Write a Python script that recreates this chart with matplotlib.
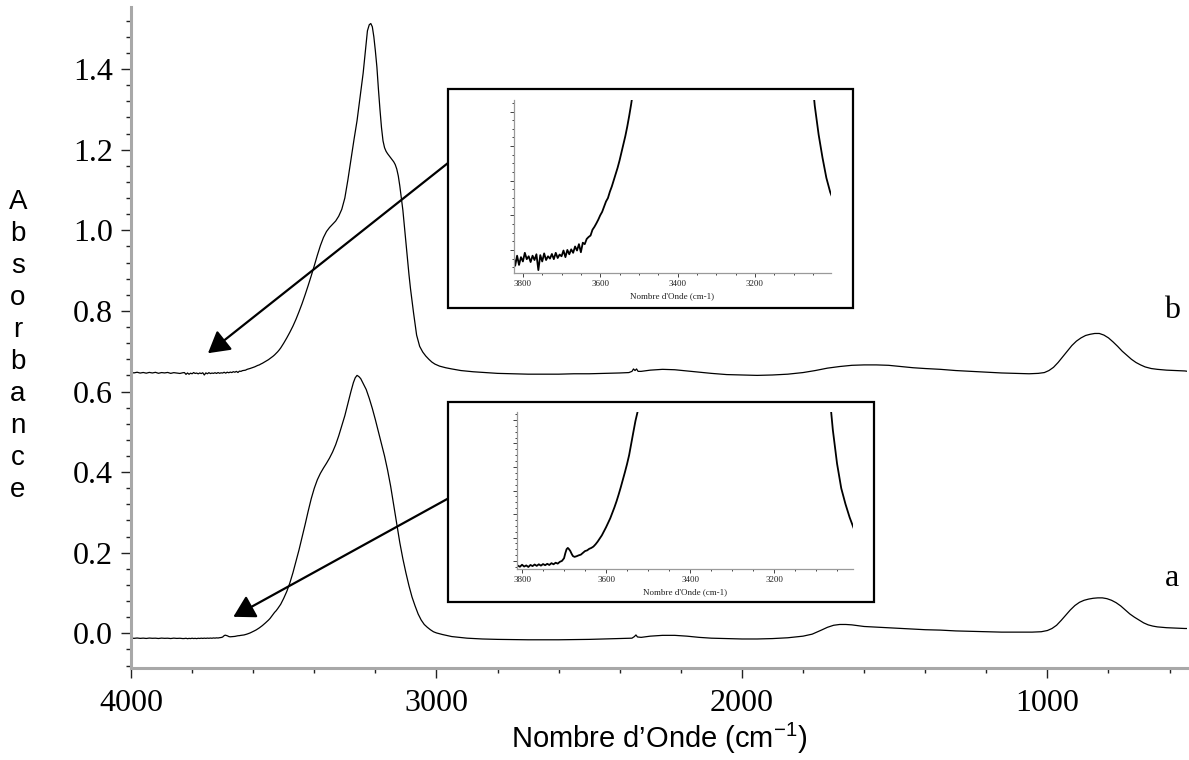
import numpy as np
import matplotlib
matplotlib.use("Agg")
import matplotlib.pyplot as plt
from matplotlib.patches import Rectangle
from matplotlib.ticker import MultipleLocator

# spectre b (échantillon traité), nombres d'onde en cm-1
wn_b = [4000, 3990, 3980, 3970, 3960, 3950, 3940, 3930, 3920, 3910, 3900, 3890,
        3880, 3870, 3860, 3850, 3840, 3830,
        3825, 3820, 3815, 3810, 3805, 3800, 3795, 3790, 3785, 3780, 3775, 3770,
        3765, 3760, 3755, 3750, 3745, 3740, 3735, 3730, 3725, 3720, 3715, 3710,
        3705, 3700, 3695, 3690, 3685, 3680, 3675, 3670, 3665, 3660, 3655, 3650,
        3645, 3640, 3635, 3630, 3625, 3620, 3615, 3610, 3605, 3600, 3595, 3590,
        3585, 3580, 3575, 3570, 3565, 3560, 3555, 3550, 3545, 3540, 3535, 3530,
        3525, 3520, 3515, 3510,
        3500, 3490, 3480, 3470, 3460, 3450, 3440, 3430, 3420, 3410, 3400, 3390,
        3380, 3370, 3360, 3350, 3340, 3330, 3320, 3310, 3300, 3290, 3280, 3270,
        3260, 3250, 3240, 3232, 3226, 3220, 3215, 3210, 3205, 3200, 3195, 3190,
        3185, 3180, 3175, 3170, 3165, 3160, 3150, 3140, 3135, 3130, 3125, 3120,
        3115, 3110, 3105, 3100, 3095, 3090, 3085, 3080, 3075, 3070, 3065, 3055,
        3045, 3035, 3025, 3015, 3005, 2990, 2970, 2950, 2920, 2880, 2840, 2800,
        2750, 2700, 2650, 2600, 2550, 2500, 2450, 2400, 2370, 2360, 2355, 2350,
        2345, 2340, 2330, 2300, 2260, 2220, 2180, 2140, 2100, 2050, 2000, 1950,
        1900, 1850, 1800, 1760, 1720, 1680, 1640, 1600, 1560, 1520, 1480, 1440,
        1400, 1350, 1300, 1250, 1200, 1150, 1100, 1060, 1030, 1010, 995, 980,
        965, 950, 935, 920, 905, 890, 875, 860, 845, 830, 815, 800,
        785, 770, 755, 740, 725, 710, 695, 680, 660, 640, 610, 580,
        550, 540]
abs_b = [0.6470, 0.6462, 0.6478, 0.6458, 0.6472, 0.6455, 0.6474, 0.6460, 0.6476, 0.6452, 0.6470, 0.6461,
         0.6473, 0.6450, 0.6468, 0.6457, 0.6448, 0.6466,
         0.6470, 0.6425, 0.6460, 0.6428, 0.6455, 0.6440, 0.6470, 0.6448, 0.6458, 0.6438, 0.6460, 0.6445,
         0.6465, 0.6410, 0.6462, 0.6440, 0.6468, 0.6445, 0.6458, 0.6450, 0.6466, 0.6448, 0.6470, 0.6452,
         0.6464, 0.6458, 0.6478, 0.6455, 0.6480, 0.6465, 0.6482, 0.6470, 0.6492, 0.6478, 0.6500, 0.6472,
         0.6505, 0.6500, 0.6518, 0.6525, 0.6530, 0.6550, 0.6560, 0.6572, 0.6585, 0.6600, 0.6612, 0.6630,
         0.6648, 0.6660, 0.6682, 0.6700, 0.6722, 0.6745, 0.6765, 0.6790, 0.6818, 0.6845, 0.6875, 0.6908,
         0.6945, 0.6985, 0.7030, 0.7080,
         0.720, 0.733, 0.747, 0.762, 0.779, 0.798, 0.818, 0.840, 0.863, 0.887, 0.912, 0.938,
         0.962, 0.982, 0.997, 1.007, 1.015, 1.023, 1.035, 1.052, 1.080, 1.125, 1.175, 1.225,
         1.272, 1.330, 1.390, 1.450, 1.495, 1.510, 1.513, 1.505, 1.480, 1.445, 1.405, 1.350,
         1.300, 1.255, 1.222, 1.205, 1.196, 1.190, 1.180, 1.170, 1.163, 1.152, 1.135, 1.110,
         1.080, 1.050, 1.010, 0.970, 0.930, 0.890, 0.855, 0.825, 0.795, 0.768, 0.740, 0.712,
         0.698, 0.688, 0.680, 0.673, 0.668, 0.663, 0.659, 0.656, 0.652, 0.649, 0.647, 0.645,
         0.644, 0.643, 0.643, 0.643, 0.644, 0.644, 0.645, 0.646, 0.647, 0.650, 0.656, 0.652,
         0.656, 0.650, 0.650, 0.653, 0.655, 0.654, 0.651, 0.648, 0.645, 0.642, 0.641, 0.640,
         0.641, 0.643, 0.647, 0.652, 0.658, 0.662, 0.665, 0.666, 0.666, 0.665, 0.662, 0.659,
         0.657, 0.655, 0.652, 0.650, 0.648, 0.646, 0.645, 0.644, 0.645, 0.647, 0.652, 0.660,
         0.672, 0.686, 0.700, 0.714, 0.725, 0.733, 0.739, 0.742, 0.744, 0.744, 0.740, 0.733,
         0.723, 0.712, 0.700, 0.690, 0.680, 0.672, 0.666, 0.661, 0.657, 0.655, 0.653, 0.652,
         0.651, 0.650]

# spectre a (échantillon de référence)
wn_a = [4000, 3990, 3980, 3970, 3960, 3950, 3940, 3930, 3920, 3910, 3900, 3890,
        3880, 3870, 3860, 3850, 3840, 3830,
        3825, 3820, 3815, 3810, 3805, 3800, 3795, 3790, 3785, 3780, 3775, 3770,
        3765, 3760, 3755, 3750, 3745, 3740, 3735, 3730, 3725, 3720, 3715, 3710,
        3705, 3700, 3697, 3694, 3691, 3688, 3685, 3682, 3679, 3675, 3670, 3665,
        3660, 3655, 3650, 3645, 3640, 3635, 3630, 3625, 3620, 3615, 3610, 3605,
        3600, 3595, 3590, 3585, 3580, 3575, 3570, 3565, 3560, 3555, 3550, 3545,
        3540, 3535, 3530, 3525, 3520, 3510, 3500, 3490, 3480, 3470, 3460, 3450,
        3440, 3430, 3420, 3410, 3400, 3390, 3380, 3370, 3360, 3350, 3340, 3330,
        3320, 3310, 3300, 3290, 3280, 3272, 3266, 3260, 3254, 3248, 3240, 3230,
        3220, 3210, 3200, 3190, 3180, 3170, 3160, 3150, 3140, 3130, 3120, 3110,
        3100, 3090, 3080, 3070, 3060, 3050, 3040, 3030, 3020, 3010, 3000, 2980,
        2950, 2900, 2850, 2800, 2700, 2600, 2500, 2450, 2400, 2360, 2352, 2347,
        2342, 2330, 2300, 2260, 2220, 2180, 2140, 2100, 2050, 2000, 1950, 1900,
        1850, 1800, 1770, 1740, 1720, 1700, 1680, 1660, 1640, 1620, 1600, 1550,
        1500, 1450, 1400, 1350, 1300, 1250, 1200, 1150, 1100, 1050, 1020, 1000,
        985, 970, 955, 940, 925, 910, 895, 880, 865, 850, 835, 820,
        805, 790, 775, 760, 745, 730, 715, 700, 685, 670, 655, 640,
        610, 580, 550, 540]
abs_a = [-0.0118, -0.0124, -0.0116, -0.0125, -0.0119, -0.0127, -0.0117, -0.0123, -0.0120, -0.0128, -0.0118, -0.0124,
         -0.0121, -0.0129, -0.0119, -0.0126, -0.0122, -0.0130,
         -0.0128, -0.0122, -0.0133, -0.0125, -0.0130, -0.0121, -0.0129, -0.0124, -0.0131, -0.0122, -0.0127, -0.0120,
         -0.0126, -0.0119, -0.0125, -0.0118, -0.0123, -0.0117, -0.0122, -0.0114, -0.0119, -0.0112, -0.0116, -0.0108,
         -0.0104, -0.0092, -0.0070, -0.0052, -0.0046, -0.0052, -0.0060, -0.0072, -0.0082, -0.0086, -0.0083, -0.0079,
         -0.0076, -0.0068, -0.0060, -0.0057, -0.0050, -0.0046, -0.0040, -0.0030, -0.0018, -0.0004, 0.0010, 0.0028,
         0.0046, 0.0066, 0.0086, 0.0110, 0.0135, 0.0162, 0.0192, 0.0224, 0.0258, 0.0292, 0.0328, 0.0368,
         0.0420, 0.0470, 0.0520, 0.0560, 0.0610, 0.072, 0.087, 0.104, 0.125, 0.150, 0.178, 0.207,
         0.238, 0.270, 0.303, 0.334, 0.360, 0.381, 0.397, 0.410, 0.422, 0.435, 0.450, 0.468,
         0.490, 0.515, 0.540, 0.570, 0.600, 0.622, 0.634, 0.640, 0.637, 0.632, 0.620, 0.605,
         0.583, 0.558, 0.530, 0.500, 0.470, 0.440, 0.405, 0.365, 0.318, 0.270, 0.225, 0.185,
         0.150, 0.118, 0.090, 0.068, 0.048, 0.033, 0.022, 0.015, 0.009, 0.004, 0.001, -0.003,
         -0.008, -0.012, -0.014, -0.015, -0.016, -0.016, -0.015, -0.014, -0.013, -0.012, -0.008, -0.004,
         -0.009, -0.010, -0.007, -0.005, -0.005, -0.007, -0.010, -0.012, -0.013, -0.014, -0.014, -0.013,
         -0.011, -0.007, -0.002, 0.008, 0.015, 0.020, 0.022, 0.022, 0.021, 0.019, 0.017, 0.015,
         0.013, 0.011, 0.009, 0.008, 0.006, 0.005, 0.004, 0.003, 0.003, 0.003, 0.004, 0.007,
         0.012, 0.020, 0.032, 0.045, 0.058, 0.069, 0.077, 0.082, 0.085, 0.087, 0.088, 0.088,
         0.086, 0.082, 0.076, 0.068, 0.058, 0.048, 0.040, 0.033, 0.026, 0.021, 0.018, 0.016,
         0.014, 0.013, 0.012, 0.012]

SERIF = "Liberation Serif"
SANS = "Liberation Sans"
plt.rcParams["mathtext.fontset"] = "custom"
plt.rcParams["mathtext.rm"] = SANS


def style_inset(axi, xlim, ylim, ymaj):
    axi.set_xlim(*xlim)
    axi.set_ylim(*ylim)
    for s in ("top", "right"):
        axi.spines[s].set_visible(False)
    for s in ("left", "bottom"):
        axi.spines[s].set_color("#9a9a9a")
        axi.spines[s].set_linewidth(0.9)
    axi.xaxis.set_major_locator(MultipleLocator(200))
    axi.xaxis.set_minor_locator(MultipleLocator(50))
    axi.yaxis.set_major_locator(MultipleLocator(ymaj))
    axi.yaxis.set_minor_locator(MultipleLocator(ymaj / 4))
    axi.tick_params(which="both", direction="out", width=0.6, colors="#222222",
                    labelsize=6.5, pad=2)
    axi.tick_params(which="major", length=3)
    axi.tick_params(which="minor", length=1.5)
    axi.set_yticklabels([])
    for lab in axi.get_xticklabels():
        lab.set_fontfamily(SERIF)
    axi.set_xlabel("Nombre d'Onde (cm-1)", fontsize=6.5, family=SERIF,
                   color="#222222", labelpad=3)


def main():
    W, H = 1189, 760
    fig = plt.figure(figsize=(W / 100, H / 100), dpi=100)
    ax = fig.add_axes([131 / W, 1 - 668 / H, 1056 / W, 661 / H])

    ax.plot(wn_b, abs_b, color="black", linewidth=0.9)
    ax.plot(wn_a, abs_a, color="black", linewidth=0.9)

    ax.set_xlim(4000, 543)
    ax.set_ylim(-0.086, 1.554)
    for s in ("top", "right"):
        ax.spines[s].set_visible(False)
    for s in ("left", "bottom"):
        ax.spines[s].set_color("#a8a8a8")
        ax.spines[s].set_linewidth(2.2)

    ax.xaxis.set_major_locator(MultipleLocator(1000))
    ax.xaxis.set_minor_locator(MultipleLocator(200))
    ax.yaxis.set_major_locator(MultipleLocator(0.2))
    ax.yaxis.set_minor_locator(MultipleLocator(0.04))
    ax.tick_params(which="both", direction="out", colors="#222222", width=1.0,
                   labelsize=23)
    ax.tick_params(which="major", length=7)
    ax.tick_params(which="minor", length=3.5)
    ax.tick_params(axis="y", pad=6)
    ax.tick_params(axis="x", pad=8)
    ax.set_yticks(np.arange(0, 1.41, 0.2))
    ax.set_yticklabels(["%.1f" % v for v in np.arange(0, 1.41, 0.2)])
    for lab in ax.get_xticklabels() + ax.get_yticklabels():
        lab.set_fontfamily(SERIF)
        lab.set_color("black")

    ax.set_xlabel("Nombre d\u2019Onde (cm$^{\\mathrm{-1}}$)", fontsize=21,
                  family=SANS, labelpad=2)
    fig.text(18 / W, 1 - 346 / H, "\n".join("Absorbance"), fontsize=20,
             family=SANS, ha="center", va="center", linespacing=1.3)

    ax.text(1172 / W, 1 - 310 / H, "b", transform=fig.transFigure, fontsize=23,
            family=SERIF, ha="center", va="center")
    ax.text(1172 / W, 1 - 578 / H, "a", transform=fig.transFigure, fontsize=23,
            family=SERIF, ha="center", va="center")

    # cadres des agrandissements
    for (x0, y0, x1, y1) in [(448, 89, 853, 308), (448, 402, 874, 602)]:
        fig.add_artist(Rectangle((x0 / W, 1 - y1 / H), (x1 - x0) / W, (y1 - y0) / H,
                                 transform=fig.transFigure, facecolor="white",
                                 edgecolor="black", linewidth=1.6, zorder=3))

    axb = fig.add_axes([514 / W, 1 - 273 / H, 317 / W, 173 / H], zorder=4)
    axb.plot(wn_b, abs_b, color="black", linewidth=1.3)
    style_inset(axb, (3823, 3003), (0.640, 0.700), 0.012)

    axa = fig.add_axes([517 / W, 1 - 569 / H, 336 / W, 157 / H], zorder=4)
    axa.plot(wn_a, abs_a, color="black", linewidth=1.3)
    style_inset(axa, (3812, 3012), (-0.014, 0.056), 0.0105)

    arrow = dict(arrowstyle="-|>,head_length=1.3,head_width=0.75",
                 mutation_scale=10, lw=1.6, color="black",
                 shrinkA=0, shrinkB=0)
    ax.annotate("", xy=(3748, 0.695), xycoords="data",
                xytext=(448 / W, 1 - 163 / H), textcoords="figure fraction",
                arrowprops=arrow, zorder=5)
    ax.annotate("", xy=(3665, 0.041), xycoords="data",
                xytext=(449 / W, 1 - 498 / H), textcoords="figure fraction",
                arrowprops=arrow, zorder=5)

    fig.savefig("out.png", dpi=100)


if __name__ == "__main__":
    main()
